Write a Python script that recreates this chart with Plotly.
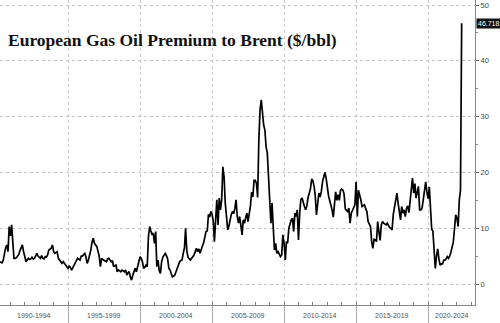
import pandas as pd
import plotly.graph_objects as go

# Monthly European gas oil premium to Brent ($/bbl)
p1990_1994 = [
    4.0, 3.9, 3.8, 4.2, 5.5, 6.5, 7.0, 5.8, 10.3,                    # 1990 Apr-Dec
    8.6, 10.6, 6.5, 4.6, 4.6, 4.7, 5.0, 5.3, 6.0, 6.4, 7.0, 5.8,       # 1991
    4.6, 4.0, 4.3, 4.6, 4.4, 4.5, 4.8, 4.5, 4.6, 5.2, 5.5, 5.0,        # 1992
    4.8, 4.6, 5.1, 4.6, 4.5, 4.9, 4.8, 5.2, 6.1, 6.3, 6.4, 7.0,        # 1993
    5.8, 5.5, 5.7, 5.8, 4.6, 4.3, 4.0, 3.7, 4.0, 3.6, 3.4, 3.1,        # 1994
]
p1995_1999 = [
    2.8, 3.2, 3.0, 2.5, 3.0, 3.5, 3.7, 4.2, 4.6, 4.4, 4.3, 5.0,        # 1995
    5.0, 5.3, 5.5, 4.8, 3.7, 4.3, 5.0, 6.1, 7.5, 8.2, 7.3, 7.0,        # 1996
    6.7, 5.8, 5.0, 3.1, 4.6, 4.4, 4.3, 4.2, 4.0, 4.5, 4.6, 4.3,        # 1997
    4.0, 4.2, 3.1, 3.3, 3.4, 2.2, 2.5, 2.4, 2.2, 2.5, 2.4, 2.2,        # 1998
    2.5, 1.6, 2.0, 2.2, 1.2, 0.7, 1.6, 2.4, 2.8, 2.2, 3.0, 4.0,        # 1999
]
p2000_2004 = [
    4.9, 4.6, 4.0, 2.8, 3.0, 3.4, 3.1, 8.5, 10.3, 9.5, 8.9, 9.1,       # 2000
    7.3, 9.4, 3.1, 4.3, 2.4, 1.9, 4.0, 4.8, 5.2, 5.5, 5.1, 4.5,        # 2001
    2.8, 2.5, 1.9, 1.3, 1.4, 1.6, 2.2, 2.8, 3.4, 4.0, 4.2, 4.3,        # 2002
    5.5, 6.5, 10.0, 6.0, 4.8, 4.6, 4.3, 4.6, 4.9, 5.2, 5.8, 6.4,       # 2003
    5.8, 6.3, 5.5, 6.4, 6.8, 7.4, 8.5, 9.4, 9.5, 12.5, 12.0, 13.0,     # 2004
]
p2005_2009 = [
    12.5, 11.2, 7.6, 13.0, 15.1, 10.6, 15.4, 13.3, 15.1, 21.0, 19.2, 14.5,  # 2005
    11.5, 9.7, 10.3, 11.5, 12.4, 13.0, 12.6, 13.5, 15.1, 12.1, 10.9, 12.1,  # 2006
    10.3, 8.8, 11.5, 10.9, 11.8, 12.7, 11.2, 12.4, 14.0, 16.5, 15.6, 18.6,  # 2007
    18.6, 18.0, 15.5, 25.8, 31.2, 33.0, 30.6, 28.5, 27.6, 24.6, 23.5, 19.5, # 2008
    15.1, 10.9, 14.5, 8.5, 6.1, 7.3, 5.5, 5.8, 5.2, 4.9, 5.2, 8.8,          # 2009
]
p2010_2014 = [
    7.3, 4.3, 7.6, 7.3, 10.0, 10.8, 11.5, 11.8, 9.4, 12.7, 12.1, 13.3,      # 2010
    7.9, 12.7, 15.1, 15.4, 14.5, 13.9, 13.3, 14.0, 15.5, 16.5, 17.1, 18.8,  # 2011
    18.5, 17.5, 15.8, 12.4, 15.1, 16.3, 15.6, 16.5, 18.3, 19.5, 20.0, 19.0, # 2012
    17.1, 15.8, 15.0, 14.3, 13.3, 12.0, 14.0, 16.5, 15.0, 16.0, 15.0, 16.8, # 2013
    17.0, 16.8, 16.2, 13.5, 13.2, 13.0, 13.6, 10.9, 12.7, 13.2, 13.8, 14.2, # 2014
]
p2015_2019 = [
    18.3, 12.1, 16.8, 16.0, 15.1, 13.9, 14.0, 14.2, 13.5, 13.0, 11.2, 10.6, # 2015
    10.3, 7.5, 6.4, 8.0, 7.9, 7.6, 11.2, 9.4, 7.8, 10.6, 11.2, 10.9,        # 2016
    10.7, 10.6, 10.9, 10.4, 10.1, 10.0, 9.7, 12.5, 14.0, 15.1, 16.3, 14.5,  # 2017
    12.4, 11.5, 13.9, 12.7, 13.3, 12.1, 13.5, 14.0, 12.8, 15.1, 16.3, 19.0, # 2018
    16.3, 18.0, 15.4, 16.8, 17.5, 13.3, 13.3, 13.6, 15.1, 16.4, 18.3, 16.5, # 2019
]
p2020_2022 = [
    15.3, 17.4, 14.5, 9.8, 9.5, 6.5, 2.8, 5.0, 6.3, 4.5, 3.4, 3.6,          # 2020
    3.6, 4.3, 4.3, 4.5, 4.9, 4.6, 5.0, 5.7, 6.4, 7.5, 10.0, 12.4,           # 2021
    11.8, 10.3, 15.0, 16.8, 46.718,                                         # 2022 Jan-May
]
series_start = "1990-04-01"
last_label = "46.718"

period_labels = ["1990-1994", "1995-1999", "2000-2004", "2005-2009",
                 "2010-2014", "2015-2019", "2020-2024"]
period_start_years = [1990, 1995, 2000, 2005, 2010, 2015, 2020]
y_ticks = [0, 10, 20, 30, 40, 50]

values = (p1990_1994 + p1995_1999 + p2000_2004 + p2005_2009
          + p2010_2014 + p2015_2019 + p2020_2022)
dates = pd.date_range(series_start, periods=len(values), freq="MS")

x_start = pd.Timestamp("1990-04-12")
x_end = pd.Timestamp("2023-04-04")

fig = go.Figure()
fig.add_trace(go.Scatter(
    x=dates, y=values, mode="lines",
    line=dict(color="#000000", width=1.7),
    hoverinfo="skip", showlegend=False,
))

# period labels centred in visible part of each 5-year bin
annotations = []
for lab, y0 in zip(period_labels, period_start_years):
    a = max(pd.Timestamp(f"{y0}-01-01"), x_start)
    b = min(pd.Timestamp(f"{y0 + 5}-01-01"), x_end)
    mid = a + (b - a) / 2
    annotations.append(dict(
        x=mid, xref="x", y=-0.034, yref="paper", text=lab,
        showarrow=False, xanchor="center", yanchor="middle",
        font=dict(family="Liberation Sans, Arial, sans-serif", size=7, color="#555555"),
    ))

annotations.append(dict(
    x=0.012, xref="paper", y=0.869, yref="paper",
    text="<b>European Gas Oil Premium to Brent ($/bbl)</b>",
    showarrow=False, xanchor="left", yanchor="middle",
    font=dict(family="Liberation Serif, Times New Roman, serif", size=17.5, color="#111111"),
))

annotations.append(dict(
    x=1.002, xref="paper", y=values[-1], yref="y", text=last_label,
    showarrow=False, xanchor="left", yanchor="middle",
    bgcolor="#111111", borderpad=1,
    font=dict(family="Liberation Sans, Arial, sans-serif", size=7, color="#ffffff"),
))

fig.update_layout(
    width=500, height=323,
    margin=dict(l=0, r=25, t=0, b=18),
    paper_bgcolor="#ffffff", plot_bgcolor="#ffffff",
    showlegend=False,
    annotations=annotations,
    xaxis=dict(
        type="date", range=[x_start, x_end],
        tickmode="array",
        tickvals=[pd.Timestamp(f"{y}-01-01") for y in period_start_years[1:]],
        showticklabels=False,
        ticks="outside", ticklen=18, tickcolor="#aaaaaa", tickwidth=1,
        showgrid=True, gridcolor="#c4c4c4", griddash="dot", gridwidth=1,
        showline=True, linecolor="#888888", linewidth=1,
        zeroline=False,
        minor=dict(dtick="M12", tick0="1990-01-01", ticks="inside",
                   ticklen=3, tickcolor="#777777", showgrid=False),
    ),
    yaxis=dict(
        side="right", range=[-3.76, 50.9],
        tickmode="array", tickvals=y_ticks,
        ticks="outside", ticklen=3, tickcolor="#666666",
        tickfont=dict(family="Liberation Sans, Arial, sans-serif", size=7.5, color="#444444"),
        showgrid=True, gridcolor="#c4c4c4", griddash="dot", gridwidth=1,
        showline=True, linecolor="#888888", linewidth=1,
        zeroline=False,
        minor=dict(dtick=5, tick0=0, ticks="outside", ticklen=2,
                   tickcolor="#888888", showgrid=False),
    ),
)

fig.write_html("out.html")
